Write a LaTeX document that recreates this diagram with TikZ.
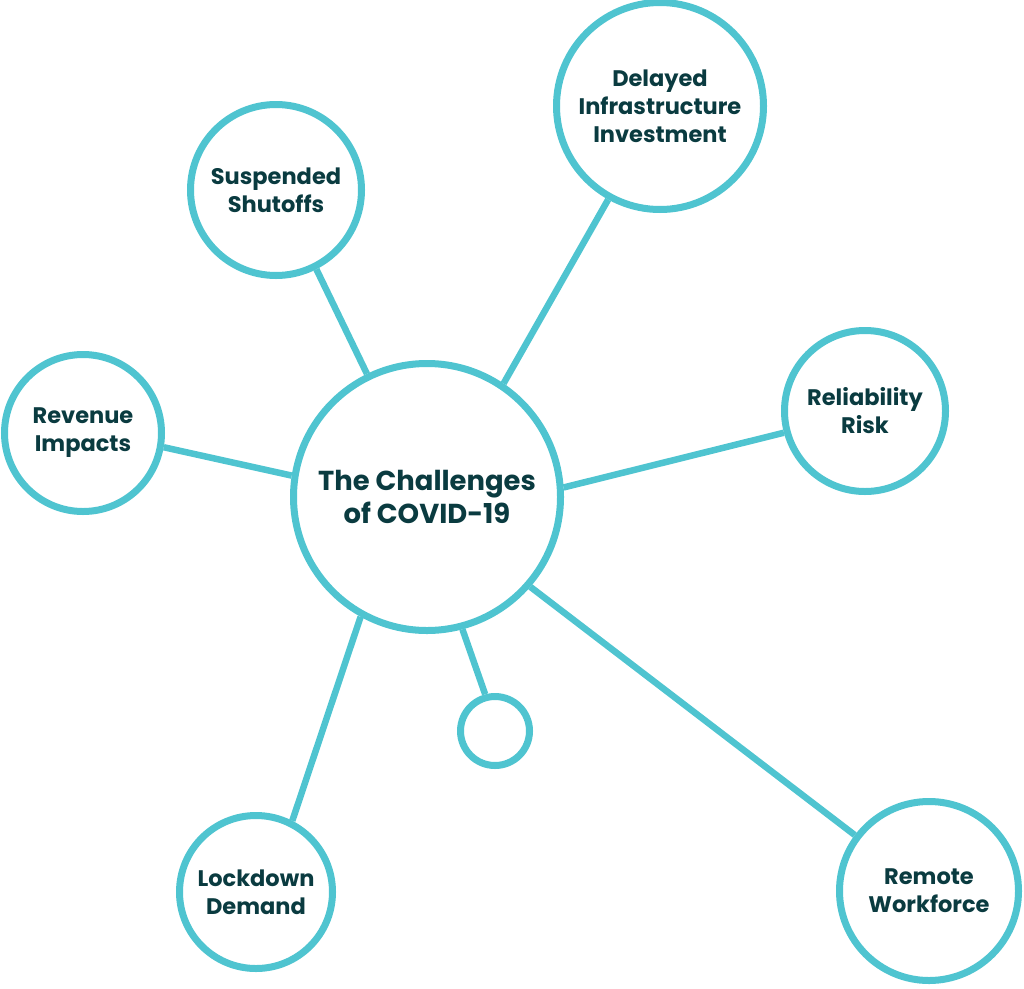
\documentclass[tikz,border=0pt]{standalone}
\usepackage{fontspec}
\setmainfont{Poppins}
\usetikzlibrary{positioning}
\definecolor{covidcyan}{HTML}{4FC4D0}
\definecolor{covidink}{HTML}{0A3B40}

\begin{document}
\begin{tikzpicture}[x=1pt,y=-1pt, every node/.style={font=\bfseries}]
    \tikzstyle{hub}=[circle,draw=covidcyan,line width=7pt,fill=white,minimum size=267pt,align=center,text=covidink,font=\fontsize{27.4}{33}\selectfont\bfseries]
    \tikzstyle{issue}=[circle,draw=covidcyan,line width=7pt,fill=white,inner sep=0pt,align=center,text=covidink,font=\fontsize{22.5}{28}\selectfont\bfseries]
    \tikzstyle{spoke}=[draw=covidcyan,line width=6.5pt]
    \useasboundingbox (0,0) rectangle (1024,988);
    \node[hub] (covid) at (427,497) {The Challenges\\of COVID-19};
    \node[issue,minimum size=171pt] (shutoffs) at (276,190) {Suspended\\Shutoffs};
    \node[issue,minimum size=207pt] (invest) at (660,106) {Delayed\\Infrastructure\\Investment};
    \node[issue,minimum size=157pt] (revenue) at (83,433) {Revenue\\Impacts};
    \node[issue,minimum size=161pt] (risk) at (865,411) {Reliability\\Risk};
    \node[issue,minimum size=153pt] (lockdown) at (256,892) {Lockdown\\Demand};
    \node[issue,minimum size=179pt] (remote) at (929,891) {Remote\\Workforce};
    \node[issue,minimum size=69pt] (blank) at (495,731) {};
    \draw[spoke] (covid.116) -- (shutoffs.297);
    \draw[spoke] (covid.56) -- (invest.241);
    \draw[spoke] (covid.171) -- (revenue.350);
    \draw[spoke] (covid.4) -- (risk.195);
    \draw[spoke] (covid.241) -- (lockdown.63);
    \draw[spoke] (covid.319) -- (remote.143);
    \draw[spoke] (covid.285) -- (blank.105);
\end{tikzpicture}
\end{document}
